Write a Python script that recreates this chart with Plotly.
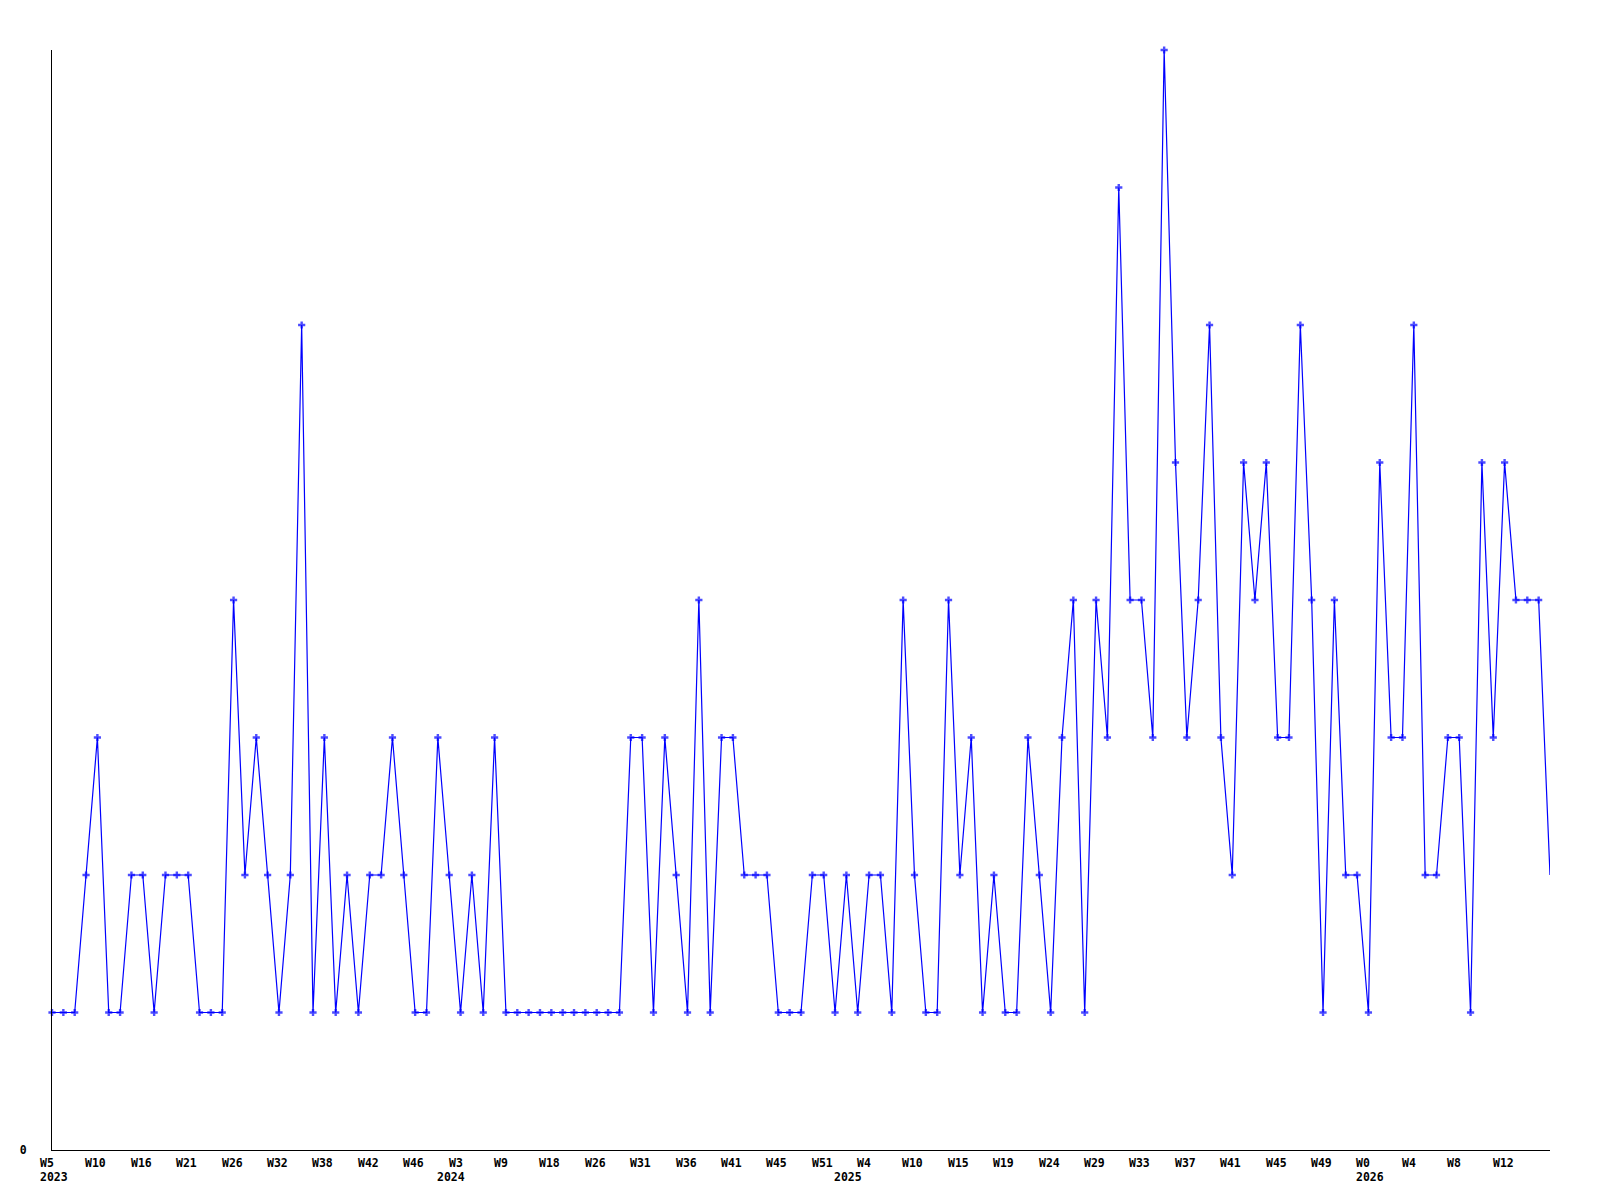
import plotly.graph_objects as go

values = [1, 1, 1, 2, 3, 1, 1, 2, 2, 1,
          2, 2, 2, 1, 1, 1, 4, 2, 3, 2,
          1, 2, 6, 1, 3, 1, 2, 1, 2, 2,
          3, 2, 1, 1, 3, 2, 1, 2, 1, 3,
          1, 1, 1, 1, 1, 1, 1, 1, 1, 1,
          1, 3, 3, 1, 3, 2, 1, 4, 1, 3,
          3, 2, 2, 2, 1, 1, 1, 2, 2, 1,
          2, 1, 2, 2, 1, 4, 2, 1, 1, 4,
          2, 3, 1, 2, 1, 1, 3, 2, 1, 3,
          4, 1, 4, 3, 7, 4, 4, 3, 8, 5,
          3, 4, 6, 3, 2, 5, 4, 5, 3, 3,
          6, 4, 1, 4, 2, 2, 1, 5, 3, 3,
          6, 2, 2, 3, 3, 1, 5, 3, 5, 4,
          4, 4, 2]

week_labels = ["W5", "W10", "W16", "W21", "W26", "W32", "W38", "W42", "W46",
               "W3", "W9", "W18", "W26", "W31", "W36", "W41", "W45", "W51",
               "W4", "W10", "W15", "W19", "W24", "W29", "W33", "W37", "W41",
               "W45", "W49", "W0", "W4", "W8", "W12"]
week_label_every = 4

year_labels = ["2023", "2024", "2025", "2026"]
year_label_index = [0, 35, 70, 116]

x = list(range(len(values)))
n = len(values)
marker_sizes = [6] * (n - 1) + [0]

FONT = "DejaVu Sans Mono"
FSIZE = 11.5

fig = go.Figure()
fig.add_trace(go.Scatter(
    x=x, y=values, mode="lines+markers",
    line=dict(color="#0000ff", width=1.2),
    marker=dict(symbol="cross", size=marker_sizes, color="#0000ff",
                line=dict(width=0)),
    cliponaxis=False, showlegend=False, hoverinfo="y",
))

annotations = []
for i, lab in enumerate(week_labels):
    annotations.append(dict(
        x=i * week_label_every, xref="x", y=0, yref="paper",
        text=lab, showarrow=False, xanchor="left", yanchor="top",
        xshift=-14, yshift=-4,
        font=dict(family=FONT, size=FSIZE, color="black", weight="bold"),
    ))
for lab, idx in zip(year_labels, year_label_index):
    annotations.append(dict(
        x=idx, xref="x", y=0, yref="paper",
        text=lab, showarrow=False, xanchor="center", yanchor="top",
        xshift=2, yshift=-18,
        font=dict(family=FONT, size=FSIZE, color="black", weight="bold"),
    ))

fig.update_layout(
    width=1592, height=1192, autosize=False,
    margin=dict(l=42, r=50, t=42, b=50),
    paper_bgcolor="white", plot_bgcolor="white",
    font=dict(family=FONT, size=FSIZE, color="black", weight="bold"),
    annotations=annotations,
    showlegend=False,
)
fig.update_xaxes(
    range=[0, n - 1], showgrid=False, zeroline=False,
    showline=True, linecolor="black", linewidth=1,
    showticklabels=False, ticks="",
)
fig.update_yaxes(
    range=[0, 8], showgrid=False, zeroline=False,
    showline=True, linecolor="black", linewidth=1,
    tickvals=[0], ticktext=["0"], ticks="", ticklabelstandoff=22,
    tickfont=dict(family=FONT, size=FSIZE, color="black", weight="bold"),
)

fig.write_html("out.html")
